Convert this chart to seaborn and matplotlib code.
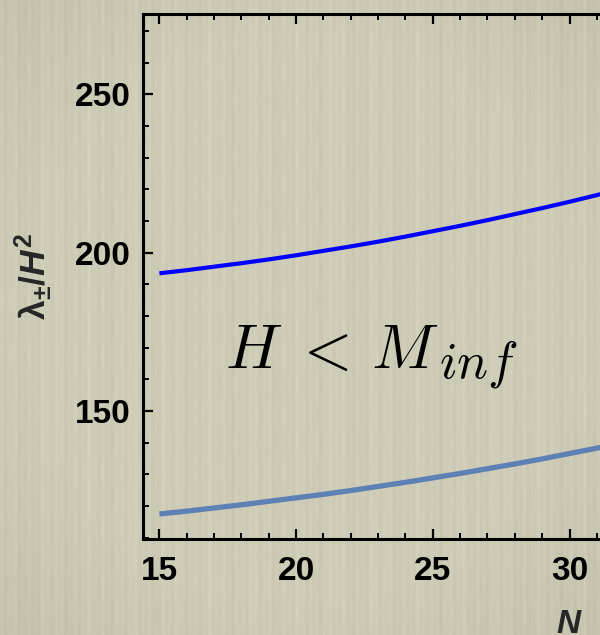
import numpy as np
import pandas as pd
import matplotlib
matplotlib.use("Agg")
import matplotlib.pyplot as plt
import seaborn as sns
from matplotlib.ticker import MultipleLocator

# e-folding number N and the two eigenvalue branches lambda_+/H^2, lambda_-/H^2
n_values = [15, 16, 17, 18, 19, 20, 21, 22, 23, 24, 25, 26, 27, 28, 29, 30, 31, 32]
lambda_plus = [193.5, 194.5, 195.6, 196.7, 197.9, 199.2, 200.6, 202.0, 203.5,
               205.1, 206.8, 208.5, 210.3, 212.2, 214.1, 216.1, 218.2, 220.4]
lambda_minus = [117.5, 118.4, 119.4, 120.4, 121.5, 122.6, 123.7, 124.9, 126.2,
                127.5, 128.9, 130.3, 131.8, 133.3, 134.9, 136.6, 138.3, 140.0]

x_ticks = [15, 20, 25, 30, 35, 40, 45]
y_ticks = [150, 200, 250]

sns.set_theme(style="ticks")
plt.rcParams["font.family"] = ["Liberation Sans", "DejaVu Sans"]
plt.rcParams["font.weight"] = "bold"
plt.rcParams["mathtext.fontset"] = "custom"
plt.rcParams["mathtext.rm"] = "Liberation Sans:bold"
plt.rcParams["mathtext.it"] = "Liberation Sans:bold:italic"
plt.rcParams["mathtext.bf"] = "Liberation Sans:bold"

W, H = 600, 635
bg = "#cfcdb7"
fig = plt.figure(figsize=(W / 100, H / 100), dpi=100, facecolor=bg)

# paper-like backdrop: fine vertical streaks with slightly darker corners
cols = np.arange(W)
rows = np.arange(H)
streak = (0.45 * np.sin(2 * np.pi * cols / 6.7)
          + 0.30 * np.sin(2 * np.pi * cols / 3.3 + 1.1)
          + 0.35 * np.sin(2 * np.pi * cols / 15.0 + 2.3)
          + 0.25 * np.sin(2 * np.pi * cols / 41.0 + 0.4))
wobble = 0.25 * np.sin(2 * np.pi * rows / 57.0)[:, None] * np.sin(2 * np.pi * cols / 9.1)[None, :]
yy, xx = np.meshgrid((rows - H / 2) / (H / 2), (cols - W / 2) / (W / 2), indexing="ij")
vignette = np.clip(np.hypot(xx, yy) - 0.9, 0, None) * 18
shade = streak[None, :] * 5.0 + wobble * 4.0 - vignette
base = np.array([206, 204, 182], dtype=float)
tex = np.clip(base[None, None, :] + shade[:, :, None], 0, 255) / 255.0
bg_ax = fig.add_axes([0, 0, 1, 1], zorder=-10)
bg_ax.imshow(tex, aspect="auto", interpolation="bilinear")
bg_ax.set_axis_off()

# frame runs past the right edge of the canvas
ax = fig.add_axes([143 / W, 96 / H, 853 / W, 525 / H])
ax.patch.set_alpha(0)

df = pd.DataFrame({"N": n_values, "plus": lambda_plus, "minus": lambda_minus})
sns.lineplot(data=df, x="N", y="minus", ax=ax, color="#5e81b5", lw=3.8,
             solid_capstyle="butt")
sns.lineplot(data=df, x="N", y="plus", ax=ax, color="#0000ff", lw=3.0,
             solid_capstyle="butt")

ax.set_xlim(14.4, 45.6)
ax.set_ylim(109.6, 275.4)
ax.set_xticks(x_ticks)
ax.set_yticks(y_ticks)
ax.xaxis.set_minor_locator(MultipleLocator(1))
ax.yaxis.set_minor_locator(MultipleLocator(10))

for side in ["left", "bottom", "top", "right"]:
    ax.spines[side].set_linewidth(2.2)
    ax.spines[side].set_color("black")

ax.tick_params(which="both", direction="in", top=True, right=True,
               color="black", labelcolor="black")
ax.tick_params(which="major", length=7, width=1.6, labelsize=24)
ax.tick_params(axis="y", which="major", pad=9)
ax.tick_params(axis="x", which="major", pad=12.5)
ax.tick_params(which="minor", length=4, width=1.4)
for lab in ax.get_xticklabels() + ax.get_yticklabels():
    lab.set_fontweight("bold")

ax.set_xlabel(r"$N$", fontsize=24, labelpad=15.5)
ax.set_ylabel(r"$\mathrm{\lambda}_{\pm}/H^{2}$", fontsize=25.5, labelpad=14)

# regime annotation in Computer Modern: "H < M" plus an enlarged subscript
main = ax.text(17.41, 163.6, r"$H\;<\,M$", fontsize=45, ha="left",
               va="baseline", math_fontfamily="cm", color="black")
fig.canvas.draw()
bb = main.get_window_extent()
x_end = ax.transData.inverted().transform((bb.x1, bb.y0))[0]
ax.annotate(r"$inf$", xy=(x_end, 163.6), xytext=(0, -7),
            textcoords="offset points", fontsize=37, ha="left",
            va="baseline", math_fontfamily="cm", color="black")

fig.savefig("out.png", dpi=100, facecolor=bg)
